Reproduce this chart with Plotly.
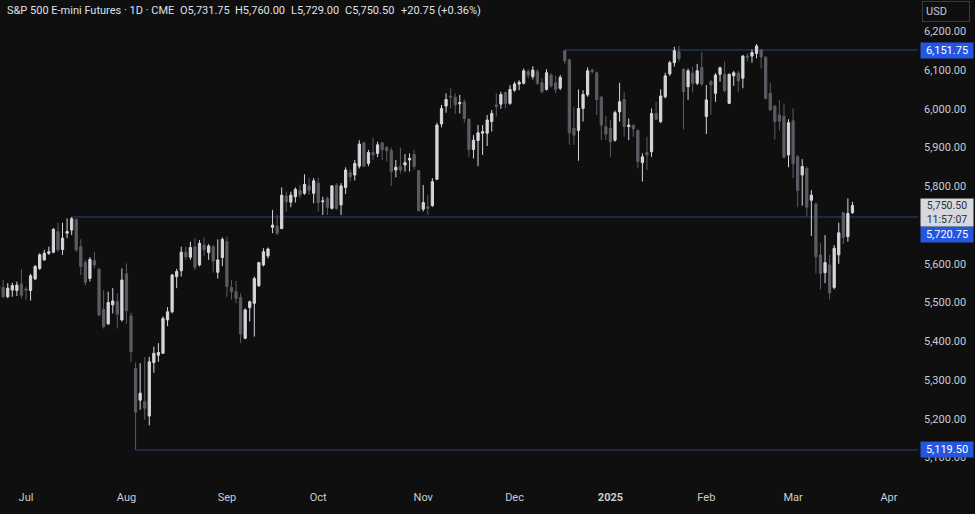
import pandas as pd
import plotly.graph_objects as go

# ---------------- data ----------------
holidays = ["2024-07-04", "2024-09-02", "2024-11-28", "2024-12-25",
            "2025-01-01", "2025-01-20", "2025-02-17"]

# O, H, L, C per trading day, grouped by month
jun_o = [5545, 5539, 5515, 5532, 5531, 5548]
jun_h = [5552, 5558, 5550, 5551, 5554, 5586]
jun_l = [5530, 5511, 5511, 5515, 5517, 5511]
jun_c = [5536, 5515, 5537, 5544, 5545, 5519]

jul_o = [5535, 5531, 5561, 5588, 5610, 5627, 5630, 5683, 5637, 5679, 5687, 5715, 5644, 5603, 5562, 5608, 5586, 5482, 5445, 5494, 5502, 5455]
jul_h = [5541, 5574, 5597, 5627, 5636, 5644, 5692, 5706, 5706, 5717, 5720.75, 5716, 5663, 5610, 5617, 5631, 5588, 5532, 5528, 5537, 5524, 5588]
jul_l = [5507, 5505, 5558, 5584, 5608, 5623, 5627, 5631, 5623, 5666, 5674, 5631, 5571, 5545, 5554, 5588, 5464, 5433, 5442, 5472, 5433, 5451]
jul_c = [5532, 5569, 5593, 5623, 5627, 5631, 5689, 5636, 5666, 5683, 5716, 5636, 5593, 5552, 5611, 5597, 5468, 5438, 5500, 5504, 5470, 5558]

aug_o = [5574, 5465, 5330, 5248, 5244, 5207, 5345, 5364, 5369, 5455, 5476, 5567, 5582, 5630, 5617, 5644, 5597, 5648, 5629, 5644, 5578, 5616]
aug_h = [5601, 5474, 5345, 5343, 5359, 5360, 5386, 5395, 5464, 5488, 5574, 5587, 5644, 5644, 5657, 5666, 5661, 5668, 5651, 5649, 5663, 5668]
aug_l = [5445, 5347, 5119.5, 5223, 5197, 5183, 5319, 5347, 5367, 5439, 5472, 5537, 5567, 5610, 5610, 5584, 5593, 5620, 5610, 5577, 5562, 5594]
aug_c = [5479, 5373, 5217, 5266, 5227, 5347, 5369, 5371, 5459, 5476, 5571, 5580, 5630, 5618, 5642, 5591, 5653, 5636, 5646, 5607, 5610, 5663]

sep_o = [5657, 5539, 5528, 5513, 5408, 5487, 5498, 5543, 5597, 5620, 5694, 5697, 5691, 5775, 5759, 5773, 5789, 5782, 5801, 5782]
sep_h = [5670, 5558, 5556, 5524, 5485, 5505, 5567, 5605, 5640, 5642, 5739, 5726, 5797, 5786, 5786, 5797, 5803, 5831, 5821, 5821]
sep_l = [5515, 5507, 5498, 5395, 5405, 5451, 5412, 5541, 5593, 5614, 5679, 5674, 5689, 5735, 5746, 5758, 5769, 5778, 5778, 5756]
sep_c = [5541, 5528, 5511, 5419, 5481, 5502, 5562, 5603, 5631, 5638, 5700, 5679, 5777, 5760, 5777, 5792, 5778, 5805, 5790, 5814]

oct_o = [5808, 5760, 5769, 5743, 5803, 5752, 5797, 5835, 5829, 5852, 5912, 5859, 5887, 5885, 5912, 5900, 5892, 5842, 5852, 5855, 5868, 5882, 5840]
oct_h = [5823, 5773, 5773, 5803, 5808, 5808, 5849, 5844, 5868, 5919, 5915, 5894, 5926, 5915, 5915, 5904, 5900, 5868, 5900, 5883, 5885, 5894, 5842]
oct_l = [5735, 5726, 5726, 5740, 5739, 5726, 5780, 5812, 5815, 5846, 5851, 5852, 5868, 5875, 5868, 5864, 5801, 5823, 5833, 5838, 5838, 5842, 5735]
oct_c = [5758, 5762, 5746, 5801, 5743, 5801, 5842, 5825, 5859, 5909, 5852, 5887, 5881, 5907, 5895, 5892, 5838, 5849, 5842, 5861, 5872, 5851, 5737]

nov_o = [5741, 5747, 5750, 5818, 5961, 6007, 6033, 6030, 6013, 6018, 5973, 5895, 5918, 5937, 5937, 5967, 6010, 6012, 6042, 6014]
nov_h = [5803, 5778, 5821, 5964, 6010, 6040, 6053, 6040, 6036, 6024, 5975, 5932, 5958, 5958, 5984, 5997, 6040, 6044, 6044, 6061]
nov_l = [5735, 5726, 5747, 5816, 5952, 5990, 6001, 5987, 5988, 5964, 5876, 5872, 5852, 5881, 5904, 5941, 5980, 6000, 6001, 6010]
nov_c = [5758, 5743, 5812, 5958, 6001, 6024, 6030, 6010, 6016, 5975, 5895, 5919, 5938, 5941, 5971, 5988, 6006, 6037, 6014, 6050]

dec_o = [6048, 6064, 6066, 6096, 6083, 6096, 6067, 6050, 6087, 6067, 6053, 6150, 6126, 5950, 5944, 6001, 6036, 6100, 6093, 6030, 5954]
dec_h = [6070, 6074, 6104, 6102, 6110, 6102, 6079, 6102, 6092, 6085, 6087, 6151.75, 6130, 6005, 6050, 6048, 6107, 6104, 6096, 6033, 5981]
dec_l = [6044, 6048, 6063, 6079, 6076, 6061, 6040, 6047, 6055, 6040, 6048, 6116, 5907, 5907, 5866, 5967, 6031, 6090, 5984, 5919, 5919]
dec_c = [6064, 6068, 6098, 6087, 6100, 6066, 6044, 6093, 6059, 6050, 6081, 6124, 5938, 5932, 6001, 6037, 6098, 6096, 6024, 5958, 5935]

jan_o = [5950, 5919, 5992, 6024, 5954, 5958, 5944, 5861, 5887, 5889, 5988, 5967, 6031, 6090, 6119, 6147, 6102, 6057, 6092, 6066, 6107]
jan_h = [5971, 5995, 6067, 6044, 5975, 5958, 5947, 5885, 5928, 6001, 6018, 6050, 6093, 6124, 6160, 6162, 6104, 6104, 6109, 6116, 6147]
jan_l = [5876, 5915, 5967, 5928, 5919, 5928, 5846, 5812, 5842, 5876, 5971, 5963, 6027, 6085, 6109, 6122, 5947, 6023, 6042, 6061, 6059]
jan_c = [5915, 5990, 6018, 5954, 5958, 5948, 5864, 5876, 5881, 5988, 5973, 6033, 6085, 6119, 6150, 6130, 6044, 6098, 6066, 6098, 6064]

feb_o = [5980, 6070, 6040, 6089, 6089, 6014, 6085, 6092, 6079, 6136, 6136, 6143, 6152, 6133, 6040, 6007, 5984, 5981, 5881]
feb_h = [6061, 6074, 6092, 6109, 6122, 6091, 6098, 6098, 6139, 6143, 6153, 6167, 6153, 6136, 6067, 6010, 6023, 6014, 5973]
feb_l = [5935, 5984, 6018, 6070, 6042, 6012, 6059, 6044, 6053, 6122, 6119, 6130, 6104, 6024, 5995, 5921, 5944, 5872, 5849]
feb_c = [6023, 6062, 6087, 6106, 6047, 6089, 6093, 6072, 6136, 6133, 6145, 6162, 6134, 6027, 5997, 5967, 5968, 5875, 5964]

mar_o = [5969, 5876, 5829, 5846, 5764, 5754, 5623, 5577, 5597, 5539, 5623, 5732, 5670, 5731.75]
mar_h = [6001, 5881, 5870, 5851, 5790, 5758, 5653, 5674, 5623, 5648, 5706, 5732, 5769, 5760.00]
mar_l = [5821, 5746, 5750, 5722, 5672, 5575, 5534, 5550, 5508, 5534, 5600, 5651, 5657, 5729.00]
mar_c = [5858, 5789, 5851, 5746, 5777, 5618, 5575, 5603, 5525, 5640, 5680, 5668, 5730, 5750.50]

opens = jun_o + jul_o + aug_o + sep_o + oct_o + nov_o + dec_o + jan_o + feb_o + mar_o
highs = jun_h + jul_h + aug_h + sep_h + oct_h + nov_h + dec_h + jan_h + feb_h + mar_h
lows = jun_l + jul_l + aug_l + sep_l + oct_l + nov_l + dec_l + jan_l + feb_l + mar_l
closes = jun_c + jul_c + aug_c + sep_c + oct_c + nov_c + dec_c + jan_c + feb_c + mar_c

tick_months = ["2024-07", "2024-08", "2024-09", "2024-10", "2024-11", "2024-12",
               "2025-01", "2025-02", "2025-03", "2025-04"]
tick_labels = ["Jul", "Aug", "Sep", "Oct", "Nov", "Dec", "<b>2025</b>", "Feb", "Mar", "Apr"]
# price-axis ticks shown (5,700 is hidden behind the price labels in the reference)
price_ticks = [5100, 5200, 5300, 5400, 5500, 5600, 5800, 5900, 6000, 6100, 6200]

level_prices = [6151.75, 5720.75, 5119.50]
level_start_dates = ["2024-12-17", "2024-07-16", "2024-08-05"]

last_price = 5750.50
countdown = "11:57:07"
header_title = "S&P 500 E-mini Futures · 1D · CME"
header_parts = ["O5,731.75", "H5,760.00", "L5,729.00", "C5,750.50", "+20.75 (+0.36%)"]

# ---------------- trading calendar ----------------
days = pd.bdate_range("2024-06-21", "2025-04-30")
days = days[~days.isin(pd.to_datetime(holidays))]
n = len(opens)
dates = days[:n]
pos = list(range(n))
day_pos = {d.strftime("%Y-%m-%d"): i for i, d in enumerate(days)}
month_first = {}
for i, d in enumerate(days):
    month_first.setdefault(d.strftime("%Y-%m"), i)
tickvals = [month_first[m] for m in tick_months]

# ---------------- styling ----------------
BG = "#0f0f0f"
UP = "#d6d7da"
DOWN = "#5b5d64"
TXT = "#c9ccd3"
LINE = "#2c4287"
LABEL_BG = "#2456e0"
FONT = "Roboto"

PLOT_W = 918
PLOT_H = 485
x_lo = month_first["2024-07"] - 26 / 4.566
x_hi = month_first["2024-07"] + (PLOT_W - 26) / 4.566
y_lo, y_hi = 5029.0, 6280.8

fig = go.Figure()
fig.add_trace(go.Candlestick(
    x=pos, open=opens, high=highs, low=lows, close=closes,
    increasing=dict(line=dict(color=UP, width=1), fillcolor=UP),
    decreasing=dict(line=dict(color=DOWN, width=1), fillcolor=DOWN),
    whiskerwidth=0, hoverinfo="skip", showlegend=False,
))

for p, sd in zip(level_prices, level_start_dates):
    fig.add_shape(type="line", xref="x", yref="y", x0=day_pos[sd], x1=x_hi,
                  y0=p, y1=p, line=dict(color=LINE, width=1), layer="below")

annotations = []
# price-axis labels for the levels
label_y = {6151.75: 0, 5720.75: -18, 5119.50: 0}
for p in level_prices:
    annotations.append(dict(
        xref="paper", yref="y", x=1, y=p, xanchor="left", yanchor="middle",
        xshift=2, yshift=label_y[p], text=f"{p:,.2f}", showarrow=False,
        font=dict(family=FONT, size=11, color="#ffffff"),
        bgcolor=LABEL_BG, borderpad=0, width=52, height=15, align="center"))
# last price + countdown
annotations.append(dict(
    xref="paper", yref="y", x=1, y=last_price, xanchor="left", yanchor="top",
    xshift=2, yshift=7, text=f"{last_price:,.2f}<br>{countdown}", showarrow=False,
    font=dict(family=FONT, size=10.5, color="#2a2e39"),
    bgcolor="#d6d8de", borderpad=0, width=52, height=27, align="center"))
# USD box
annotations.append(dict(
    xref="paper", yref="paper", x=1, y=1, xanchor="left", yanchor="top",
    xshift=4, yshift=-1, text="USD", showarrow=False,
    font=dict(family=FONT, size=11, color=TXT),
    bgcolor=BG, bordercolor="#3a3b40", borderwidth=1, borderpad=3, width=40, align="left"))
# header
hy = 1 - 10 / PLOT_H
annotations.append(dict(xref="paper", yref="paper", x=5 / PLOT_W, y=hy, xanchor="left",
                        yanchor="middle", text=header_title, showarrow=False,
                        font=dict(family=FONT, size=11, color="#dfe1e6")))
header_x = [178, 233, 289, 343, 399]
for t, hx in zip(header_parts, header_x):
    annotations.append(dict(xref="paper", yref="paper", x=hx / PLOT_W, y=hy, xanchor="left",
                            yanchor="middle", text=t, showarrow=False,
                            font=dict(family=FONT, size=11, color="#dfe1e6")))

fig.update_layout(
    width=975, height=514,
    margin=dict(l=0, r=975 - PLOT_W, t=0, b=514 - PLOT_H),
    paper_bgcolor=BG, plot_bgcolor=BG,
    showlegend=False,
    annotations=annotations,
    xaxis=dict(range=[x_lo, x_hi], tickvals=tickvals, ticktext=tick_labels,
               showgrid=False, zeroline=False, showline=False, ticks="",
               tickfont=dict(family=FONT, size=11, color=TXT),
               ticklabelstandoff=4, rangeslider=dict(visible=False), fixedrange=True),
    yaxis=dict(side="right", range=[y_lo, y_hi],
               tickvals=price_ticks, tickformat=",.2f",
               showgrid=False, zeroline=False, showline=False, ticks="",
               tickfont=dict(family=FONT, size=11, color=TXT),
               ticklabelstandoff=5, fixedrange=True),
)

fig.write_html("out.html", config={"displayModeBar": False},
               post_script="document.body.style.margin='0';document.body.style.overflow='hidden';")
